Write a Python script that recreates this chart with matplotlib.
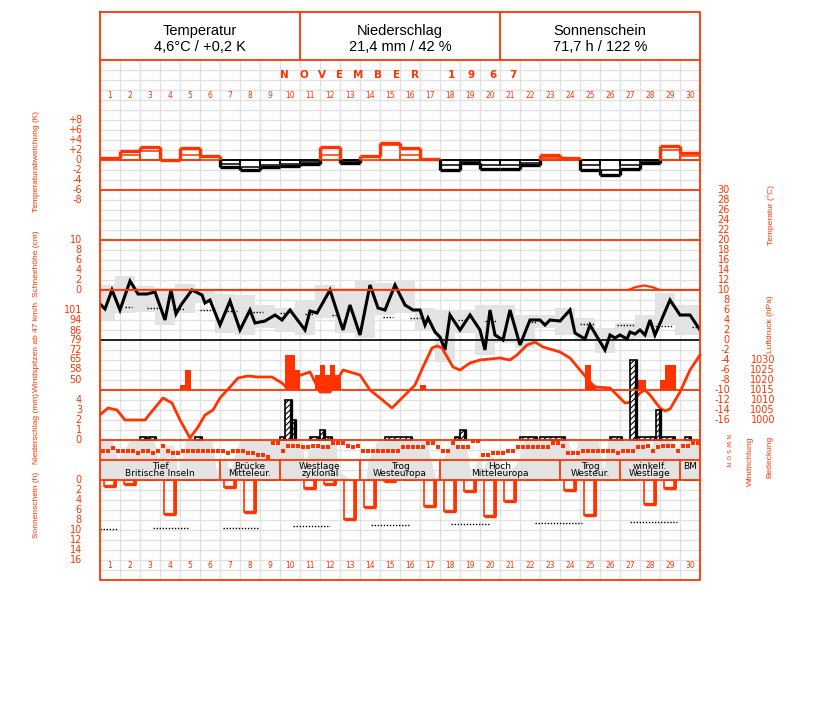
import numpy as np
import matplotlib.pyplot as plt
from matplotlib.transforms import blended_transform_factory as blend

RED = '#ff3300'
GRID = '#e1e1e1'
SHADE = '#e3e3e3'
W, H = 827, 702
LEFT, RIGHT, TOP, BOTTOM = 100, 700, 12, 580

# ---------------- data ----------------
header_titles = ['Temperatur', 'Niederschlag', 'Sonnenschein']
header_values = ['4,6°C / +0,2 K', '21,4 mm / 42 %', '71,7 h / 122 %']
days = list(range(1, 31))

# Temperaturabweichung (K), daily steps
dev_outer = [0.5, 1.9, 2.7, 0.1, 2.5, 0.9, -1.3, -2.0, -1.3, -1.2, -0.7, 2.7, -0.5, 0.9, 3.5,
             2.5, 0.2, -2.0, -0.5, -1.7, -1.7, -1.0, 1.0, 0.5, -2.0, -3.0, -1.7, -0.5, 2.8, 1.5]
dev_inner = [0.0, 1.0, 1.9, 0.0, 1.1, 0.0, -0.7, -1.3, -1.0, -0.8, -0.4, 1.0, -0.2, 0.0, 3.0,
             1.0, 0.0, -1.0, -0.2, -1.0, -1.0, -0.6, 0.5, 0.2, -1.0, -2.0, -1.0, -0.2, 2.0, 0.9]

# Temperatur (°C), position in days
t_pos = [0.05, 0.25, 0.6, 1.0, 1.5, 1.9, 2.35, 2.75, 3.25, 3.55, 3.8, 4.05, 4.6, 5.1, 5.25, 5.5,
         6.0, 6.5, 7.0, 7.5, 7.75, 8.25, 8.75, 9.1, 9.5, 10.25, 10.5, 10.85, 11.5, 12.15, 12.5,
         13.0, 13.5, 13.9, 14.25, 14.75, 15.25, 15.65, 16.0, 16.25, 16.4, 16.75, 17.0, 17.25,
         17.5, 18.0, 18.5, 19.0, 19.25, 19.5, 19.75, 20.15, 20.5, 21.0, 21.5, 22.0, 22.25, 22.5,
         23.0, 23.5, 23.75, 24.25, 24.5, 25.25, 25.5, 25.75, 26.0, 26.35, 26.5, 26.75, 27.0,
         27.25, 27.5, 27.75, 28.5, 29.0, 29.5, 30.0]
t_val = [7.0, 6.2, 10.0, 6.0, 11.8, 9.2, 9.2, 9.6, 4.0, 10.0, 5.2, 7.0, 10.0, 9.0, 7.4, 8.0,
         3.0, 7.8, 2.0, 6.0, 3.4, 3.8, 5.0, 4.0, 6.0, 2.0, 5.8, 5.4, 10.0, 2.0, 7.0,
         1.0, 11.0, 6.4, 6.0, 11.0, 7.0, 6.0, 6.0, 3.0, 4.4, 1.6, 0.6, -2.0,
         5.0, 2.0, 5.0, 2.0, -2.0, 6.0, 1.0, 0.0, 6.0, -1.0, 4.0, 4.0, 3.0, 4.0,
         3.8, 6.0, 1.4, 0.2, 3.0, -2.0, 1.0, 0.4, 1.0, 0.2, 1.6, 1.2, 2.0,
         1.0, 4.0, 1.0, 8.0, 5.0, 5.0, 2.0]

# grey temperature range boxes
box_edges = [0] + [k + 0.75 for k in range(29)] + [30]
box_hi = [11, 12.8, 10.8, 10.4, 11.2, 10, 9.2, 9, 7, 6.5, 8, 11, 10.5, 12, 11.5,
          12, 6.4, 6, 6, 7, 7, 5, 5, 6.5, 4.5, 2.5, 3.5, 5, 9.5, 7]
box_lo = [4, 5.4, 5.6, 3.0, 5.4, 7.4, 1.4, 1, 2.5, 1.6, 1, 4.5, 1.5, 0.5, 5,
          5.5, 2, -4.4, 1.5, -3, -0.5, -1.5, 2.5, 1, 0, -2.5, 0, 0.5, 3, 1]

# dotted normal temperature pieces
norm_start = [1.25, 2.35, 3.65, 5.0, 6.35, 7.65, 9.0, 10.25, 11.6, 14.15, 15.5, 17.9, 19.25,
              21.4, 24.0, 25.85, 27.75, 29.6]
norm_end = [1.6, 3.0, 4.25, 5.65, 6.85, 8.15, 9.25, 10.65, 12.0, 14.65, 16.0, 18.35, 19.85,
            21.85, 24.75, 26.75, 28.6, 30.0]
norm_t = [6.6, 6.4, 6.2, 6.0, 5.8, 5.6, 5.4, 5.2, 5.0, 4.6, 4.4, 4.0, 3.8, 3.6, 3.2, 3.0, 2.8, 2.6]

# Schneehöhe (cm)
snow_pos = [0, 26.4, 26.8, 27.2, 27.6, 28.0, 30]
snow_cm = [0, 0, 0.6, 0.9, 0.6, 0, 0]

# Windspitzen (km/h)
gust_start = [4.0, 4.25, 9.25, 9.75, 10.75, 11.0, 11.25, 11.5, 11.75, 16.0, 24.25, 24.55, 26.85, 28.0, 28.25]
gust_width = [0.25, 0.3, 0.5, 0.25, 0.25, 0.25, 0.25, 0.25, 0.3, 0.3, 0.3, 0.25, 0.45, 0.25, 0.55]
gust_kmh = [46.4, 57.4, 68.3, 57.4, 53.7, 61, 53.7, 61, 53.7, 46.4, 61, 46.4, 50, 50, 61]
gust_base = 42.8

# Niederschlag (mm)
prec_start = [2.0, 2.45, 4.75, 9.0, 9.25, 9.6, 10.5, 11.0, 11.25, 14.25, 17.75, 18.0, 21.0,
              22.0, 25.5, 26.5, 26.85, 27.8, 28.05, 29.25]
prec_width = [0.35, 0.35, 0.35, 0.25, 0.35, 0.2, 0.5, 0.25, 0.35, 1.35, 0.25, 0.3, 0.85,
              1.25, 0.6, 0.35, 0.95, 0.25, 0.7, 0.3]
prec_mm = [0.3, 0.3, 0.3, 0.3, 4.0, 2.0, 0.3, 1.0, 0.3, 0.3, 0.3, 1.0, 0.3, 0.3, 0.3, 8.0,
           0.3, 3.0, 0.3, 0.3]

# Luftdruck (hPa)
p_pos = [0.05, 0.4, 0.85, 1.25, 1.75, 2.25, 2.65, 3.15, 3.6, 4.0, 4.5, 4.9, 5.25, 5.65, 6.0,
         6.5, 6.9, 7.4, 7.9, 8.6, 9.1, 9.35, 9.9, 10.5, 11.0, 11.5, 12.15, 13.0, 13.5, 14.0,
         14.6, 15.25, 15.75, 16.15, 16.6, 16.85, 17.1, 17.65, 18.0, 18.5, 19.0, 20.0, 20.5,
         20.85, 21.35, 21.75, 22.15, 23.0, 23.5, 24.0, 24.5, 24.75, 25.5, 26.0, 26.25, 26.6,
         27.0, 27.25, 27.5, 28.0, 28.25, 28.5, 29.0, 29.5, 30.0]
p_hpa = [1003, 1006, 1005, 1000, 1000, 1000, 1005, 1011, 1008.5, 1000, 991, 996.5, 1002.5,
         1005, 1011, 1016.5, 1021, 1022, 1021.5, 1021.5, 1018.5, 1016, 1022, 1024, 1014, 1014,
         1025, 1022.5, 1015, 1011, 1006, 1012.5, 1017.5, 1026.5, 1036, 1037, 1036, 1026.5,
         1025, 1028.5, 1030, 1031, 1030, 1032.5, 1037.5, 1039, 1036.5, 1034, 1031, 1025, 1019,
         1016.5, 1016, 1011, 1008.5, 1009, 1013.5, 1015, 1012.5, 1006, 1004.5, 1005.5, 1014,
         1025, 1032.5]

# Bedeckung (Achtel)
cloud_pos = [0.0, 0.6, 0.9, 1.2, 1.5, 2.7, 2.9, 3.1, 3.7, 3.9, 4.3, 5.6, 5.85, 6.2, 6.5, 7.0,
             10.1, 10.25, 10.4, 11.8, 11.9, 12.5, 13.3, 13.4, 13.9, 16.3, 16.8, 17.1, 17.5, 18.3,
             18.6, 19.0, 19.1, 19.5, 20.0, 20.5, 21.0, 21.2, 23.4, 23.7, 23.9, 24.9, 25.2, 25.4,
             27.3, 27.5, 27.7, 28.6, 28.8, 29.0, 30.0]
cloud_octa = [8, 8, 4, 6, 8, 8, 4, 7, 7, 1, 8, 8, 1, 5, 2, 8,
              8, 2, 6, 8, 2, 0, 0, 4, 8, 8, 0, 4, 7, 7,
              0, 6, 2, 5, 3, 2, 4, 8, 8, 4, 8, 8, 2, 8,
              8, 6, 8, 8, 5, 8, 8]

# Windrichtung (Grad), 6-stündlich
wind_dir = [170, 170, 213, 170, 170, 170, 170, 145, 170, 170, 145, 170, 240, 170, 145, 145,
            170, 170, 170, 170, 170, 170, 170, 170, 170, 145, 170, 170, 170, 145, 145, 110,
            110, 87, 281, 281, 170, 240, 240, 240, 226, 226, 240, 240, 226, 226, 281, 281,
            281, 240, 226, 240, 170, 170, 170, 170, 170, 170, 170, 170, 226, 226, 226, 226,
            226, 281, 281, 226, 170, 170, 281, 226, 226, 226, 309, 309, 111, 111, 143, 143,
            143, 170, 170, 226, 226, 226, 226, 226, 226, 226, 281, 281, 240, 143, 143, 143,
            170, 170, 170, 170, 170, 170, 170, 143, 170, 170, 170, 226, 226, 240, 170, 226,
            240, 240, 240, 170, 240, 240, 281, 281]

# Sonnenschein (h)
sun_h = [1.2, 0.7, 0, 6.8, 0, 0, 1.3, 6.3, 0, 0, 1.5, 0.7, 7.8, 5.3, 0.2,
         0, 5.2, 6.2, 2.2, 7.2, 4.2, 0, 0, 1.9, 7.0, 0, 0, 4.7, 1.5, 0]
sun_norm_start = [0, 2.65, 6.15, 9.65, 13.55, 17.55, 21.75, 26.5]
sun_norm_end = [0.9, 4.4, 7.9, 11.5, 15.5, 19.5, 24.1, 28.85]
sun_norm_h = [9.8, 9.6, 9.5, 9.2, 9.0, 8.8, 8.6, 8.3]

# Großwetterlagen
weather_edges = [0, 6, 9, 13, 17, 23, 26, 29, 30]
weather_names = ['Tief\nBritische Inseln', 'Brücke\nMitteleur.', 'Westlage\nzyklonal',
                 'Trog\nWesteuropa', 'Hoch\nMitteleuropa', 'Trog\nWesteur.',
                 'winkelf.\nWestlage', 'BM']

dev_ticks = [8, 6, 4, 2, 0, -2, -4, -6, -8]
snow_ticks = [10, 8, 6, 4, 2, 0]
gust_ticks = [101, 94, 86, 79, 72, 65, 58, 50]
prec_ticks = [4, 3, 2, 1, 0]
sun_ticks = [0, 2, 4, 6, 8, 10, 12, 14, 16]
temp_ticks = list(range(30, -17, -2))
p_ticks = [1030, 1025, 1020, 1015, 1010, 1005, 1000]

# ---------------- figure ----------------
plt.rcParams['hatch.linewidth'] = 0.8

fig = plt.figure(figsize=(W / 100, H / 100), dpi=100)
base = fig.add_axes([0, 0, 1, 1], zorder=0)
base.set_xlim(0, W)
base.set_ylim(H, 0)
base.axis('off')

base.vlines(np.arange(LEFT + 20, RIGHT, 20), 60, BOTTOM, color=GRID, lw=1)
base.hlines(np.arange(70, BOTTOM, 10), LEFT, RIGHT, color=GRID, lw=1)


def panel(ytop, ybot, vtop, vbot, z):
    ax = fig.add_axes([LEFT / W, 1 - ybot / H, (RIGHT - LEFT) / W, (ybot - ytop) / H], zorder=z)
    ax.set_xlim(0, 30)
    ax.set_ylim(vbot, vtop)
    ax.axis('off')
    ax.patch.set_alpha(0)
    return ax


def ylabels(ax, vals, x, texts, ha='right'):
    tr = blend(base.transData, ax.transData)
    for v, s in zip(vals, texts):
        ax.text(x, v, s, transform=tr, ha=ha, va='center', color=RED, fontsize=7)


ax_temp = panel(190, 420, 30, -16, 2)
ax_cloud = panel(440, 480, 8, 0, 2)
ax_dev = panel(120, 200, 8, -8, 3)
ax_snow = panel(240, 290, 10, 0, 3)
ax_gust = panel(310, 390, 101, gust_base, 3)
ax_sun = panel(480, 560, 0, 16, 3)
ax_p = panel(360, 420, 1030, 1000, 4)
ax_prec = panel(400, 440, 4, 0, 5)
ax_dir = panel(437, 463, 360, 0, 5)

# temperature panel
for i in range(30):
    ax_temp.fill_between([box_edges[i], box_edges[i + 1]], box_lo[i], box_hi[i],
                         color=SHADE, lw=0, zorder=1)
ax_temp.hlines(norm_t, norm_start, norm_end, colors='black', lw=1,
               linestyles=(0, (1, 1.2)), zorder=2)
ax_temp.plot(t_pos, t_val, color='black', lw=2.2, zorder=3, solid_joinstyle='miter')
ax_temp.axhline(0, color='black', lw=1.2, zorder=2)

# temperature deviation steps
prev = 0
for i, (vo, vi) in enumerate(zip(dev_outer, dev_inner)):
    c = RED if vo >= 0 else 'black'
    ax_dev.hlines(0, i, i + 1, color=c, lw=1.2)
    ax_dev.hlines(vo, i, i + 1, color=c, lw=2.4)
    if vi != 0:
        ax_dev.bar(i, vi, width=1, align='edge', fill=False, edgecolor=c, lw=1.1)
    if (prev >= 0) == (vo >= 0):
        ax_dev.vlines(i, prev, vo, color=c, lw=2.4)
    else:
        ax_dev.vlines(i, prev, 0, color=RED if prev >= 0 else 'black', lw=2.4)
        ax_dev.vlines(i, 0, vo, color=c, lw=2.4)
    prev = vo

# snow
ax_snow.plot(snow_pos, snow_cm, color=RED, lw=1.6)

# wind gusts
ax_gust.bar(gust_start, np.array(gust_kmh) - gust_base, width=gust_width, bottom=gust_base,
            align='edge', color=RED, lw=0)

# pressure
ax_p.plot(p_pos, p_hpa, color=RED, lw=2.0, clip_on=False)

# precipitation
ax_prec.bar(prec_start, prec_mm, width=prec_width, align='edge', facecolor='white',
            edgecolor='black', hatch='//////', lw=1.2, clip_on=False)
ax_prec.vlines(np.array(prec_start) + np.array(prec_width) - 0.04, 0, prec_mm,
               color='black', lw=2.4, clip_on=False)

# cloud cover and wind direction
ax_cloud.fill_between(cloud_pos, 0, cloud_octa, color=SHADE, lw=0)
ax_dir.scatter(np.arange(len(wind_dir)) / 4 + 0.125, wind_dir, marker='s', s=5,
               color=RED, lw=0, clip_on=False)

# sunshine
sun_x = np.array(days) - 0.8
ax_sun.bar(sun_x, sun_h, width=0.6, align='edge', fill=False, edgecolor=RED, lw=1.2)
has_sun = np.array(sun_h) > 0
ax_sun.vlines((sun_x + 0.56)[has_sun], 0, np.array(sun_h)[has_sun], color=RED, lw=2.6)
ax_sun.hlines(np.array(sun_h)[has_sun], sun_x[has_sun], (sun_x + 0.6)[has_sun], color=RED, lw=2.4)
ax_sun.hlines(sun_norm_h, sun_norm_start, sun_norm_end, colors='black', lw=1,
              linestyles=(0, (1, 1.2)))

# ---------------- frame, lines and text ----------------
top = fig.add_axes([0, 0, 1, 1], zorder=10)
top.set_xlim(0, W)
top.set_ylim(H, 0)
top.axis('off')
top.patch.set_alpha(0)

top.hlines([190, 240, 290, 390, 440, 460, 480], LEFT, RIGHT, color=RED, lw=1.3)
top.plot([LEFT, RIGHT, RIGHT, LEFT, LEFT], [TOP, TOP, BOTTOM, BOTTOM, TOP], color=RED, lw=1.3)
top.hlines(60, LEFT, RIGHT, color=RED, lw=1.3)
top.vlines([300, 500], TOP, 60, color=RED, lw=1.3)

for k, (t, v) in enumerate(zip(header_titles, header_values)):
    cx = 200 + 200 * k
    top.text(cx, 31, t, ha='center', va='center', fontsize=10.5, family='Liberation Sans')
    top.text(cx, 47, v, ha='center', va='center', fontsize=10.5, family='Liberation Sans')

title_x = [284, 304, 322, 340, 358, 378, 397, 415, 451, 471, 493, 513]
for ch, x in zip('NOVEMBER1967', title_x):
    top.text(x, 75.5, ch, ha='center', va='center', fontsize=7.5, weight='bold', color=RED)

day_tr = blend(ax_temp.transData, top.transData)
for d in days:
    for y in (95, 565):
        top.text(d - 0.5, y, str(d), transform=day_tr, ha='center', va='center',
                 fontsize=5.5, color=RED)

# weather types
top.vlines(weather_edges[1:-1], 460, 480, transform=day_tr, color=RED, lw=1.3)
for a, b, name in zip(weather_edges[:-1], weather_edges[1:], weather_names):
    for j, line in enumerate(name.split('\n')):
        top.text((a + b) / 2, 466.5 + 7.5 * j, line, transform=day_tr, ha='center',
                 va='center', fontsize=6.5, color='black')

# tick labels
ylabels(ax_dev, dev_ticks, 82, ['0' if v == 0 else '%+d' % v for v in dev_ticks])
ylabels(ax_snow, snow_ticks, 82, [str(v) for v in snow_ticks])
ylabels(ax_gust, gust_ticks, 82, [str(v) for v in gust_ticks])
ylabels(ax_prec, prec_ticks, 82, [str(v) for v in prec_ticks])
ylabels(ax_sun, sun_ticks, 82, [str(v) for v in sun_ticks])
ylabels(ax_temp, temp_ticks, 730, [str(v) for v in temp_ticks])
ylabels(ax_p, p_ticks, 775, [str(v) for v in p_ticks])

side_labels = [('Temperaturabweichung (K)', 37, 162), ('Schneehöhe (cm)', 37, 264),
               ('Windspitzen ab 47 km/h', 37, 347), ('Niederschlag (mm)', 37, 428),
               ('Sonnenschein (h)', 37, 505), ('Temperatur (°C)', 771, 215),
               ('Luftdruck (hPa)', 771, 324), ('Windrichtung', 750, 461),
               ('Bedeckung', 770, 457)]
for s, x, y in side_labels:
    top.text(x, y, s, rotation=90, ha='center', va='center', fontsize=6,
             color=RED, family='Liberation Sans')
top.text(727, 450, 'N W S O N', rotation=270, ha='center', va='center', fontsize=4.5,
         color=RED)

fig.savefig('out.png', dpi=100, facecolor='white')
